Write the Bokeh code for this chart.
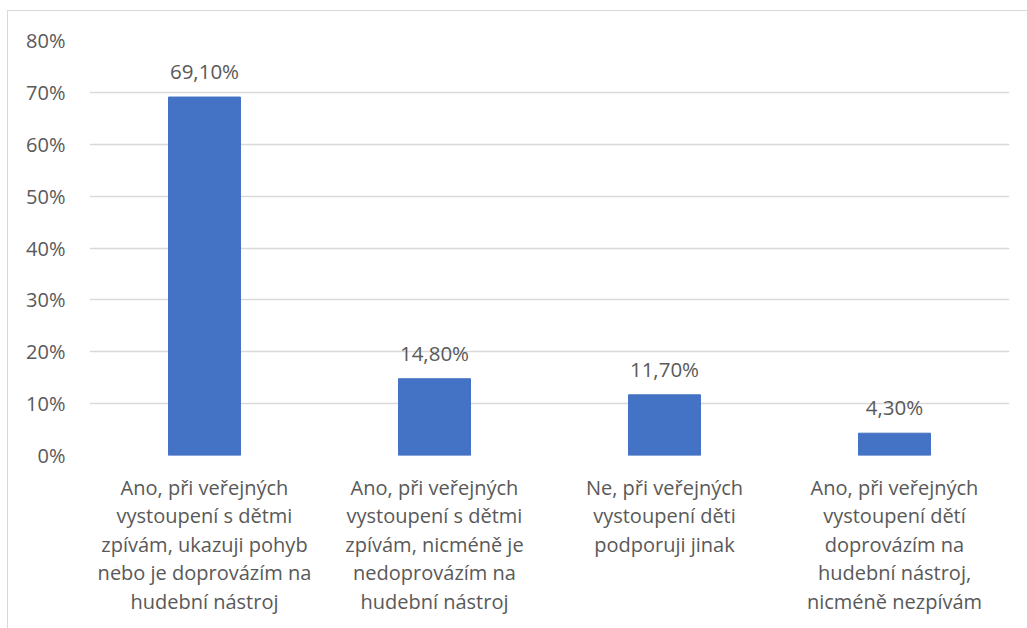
from bokeh.plotting import figure
from bokeh.models import ColumnDataSource, LabelSet, NumeralTickFormatter, FixedTicker
from bokeh.core.properties import value
from bokeh.embed import file_html
from bokeh.resources import INLINE

categories = [
    "Ano, při veřejných\nvystoupení s dětmi\nzpívám, ukazuji pohyb\nnebo je doprovázím na\nhudební nástroj",
    "Ano, při veřejných\nvystoupení s dětmi\nzpívám, nicméně je\nnedoprovázím na\nhudební nástroj",
    "Ne, při veřejných\nvystoupení děti\npodporuji jinak",
    "Ano, při veřejných\nvystoupení dětí\ndoprovázím na\nhudební nástroj,\nnicméně nezpívám",
]
values = [0.691, 0.148, 0.117, 0.043]
y_ticks = [0.0, 0.1, 0.2, 0.3, 0.4, 0.5, 0.6, 0.7, 0.8]

FONT = "Open Sans"
TEXT_COLOR = "#595959"

labels = [("%.2f" % (v * 100)).replace(".", ",") + "%" for v in values]
source = ColumnDataSource(dict(cat=categories, val=values, lab=labels))

p = figure(
    x_range=categories, y_range=(0, 0.8),
    width=1020, height=618,
    output_backend="svg", toolbar_location=None,
    min_border_left=81, min_border_right=19,
    min_border_top=29, min_border_bottom=174,
    margin=(10, 0, 0, 7),
    styles={"border-left": "1px solid #d9d9d9", "border-top": "1px solid #d9d9d9"},
)
p.outline_line_color = None
p.background_fill_color = "white"
p.border_fill_color = "white"

p.vbar(x="cat", top="val", width=0.313, source=source, color="#4472C4")

p.add_layout(LabelSet(x="cat", y="val", text="lab", source=source,
                      y_offset=18, text_align="center", text_baseline="alphabetic",
                      text_font=value(FONT), text_font_size="20.5px", text_color=TEXT_COLOR))

p.xgrid.grid_line_color = None
p.ygrid.grid_line_color = "#d9d9d9"
p.ygrid.grid_line_width = 1.3
p.yaxis.ticker = FixedTicker(ticks=y_ticks)
p.yaxis.formatter = NumeralTickFormatter(format="0%")

for ax in (p.xaxis[0], p.yaxis[0]):
    ax.axis_line_color = None
    ax.major_tick_line_color = None
    ax.minor_tick_line_color = None
    ax.major_label_text_font = FONT
    ax.major_label_text_font_size = "20px"
    ax.major_label_text_color = TEXT_COLOR

p.yaxis.major_label_standoff = 18
p.xaxis.major_label_standoff = 12
p.xaxis.major_label_text_line_height = 1.06

open("out.html", "w").write(file_html(p, INLINE))
